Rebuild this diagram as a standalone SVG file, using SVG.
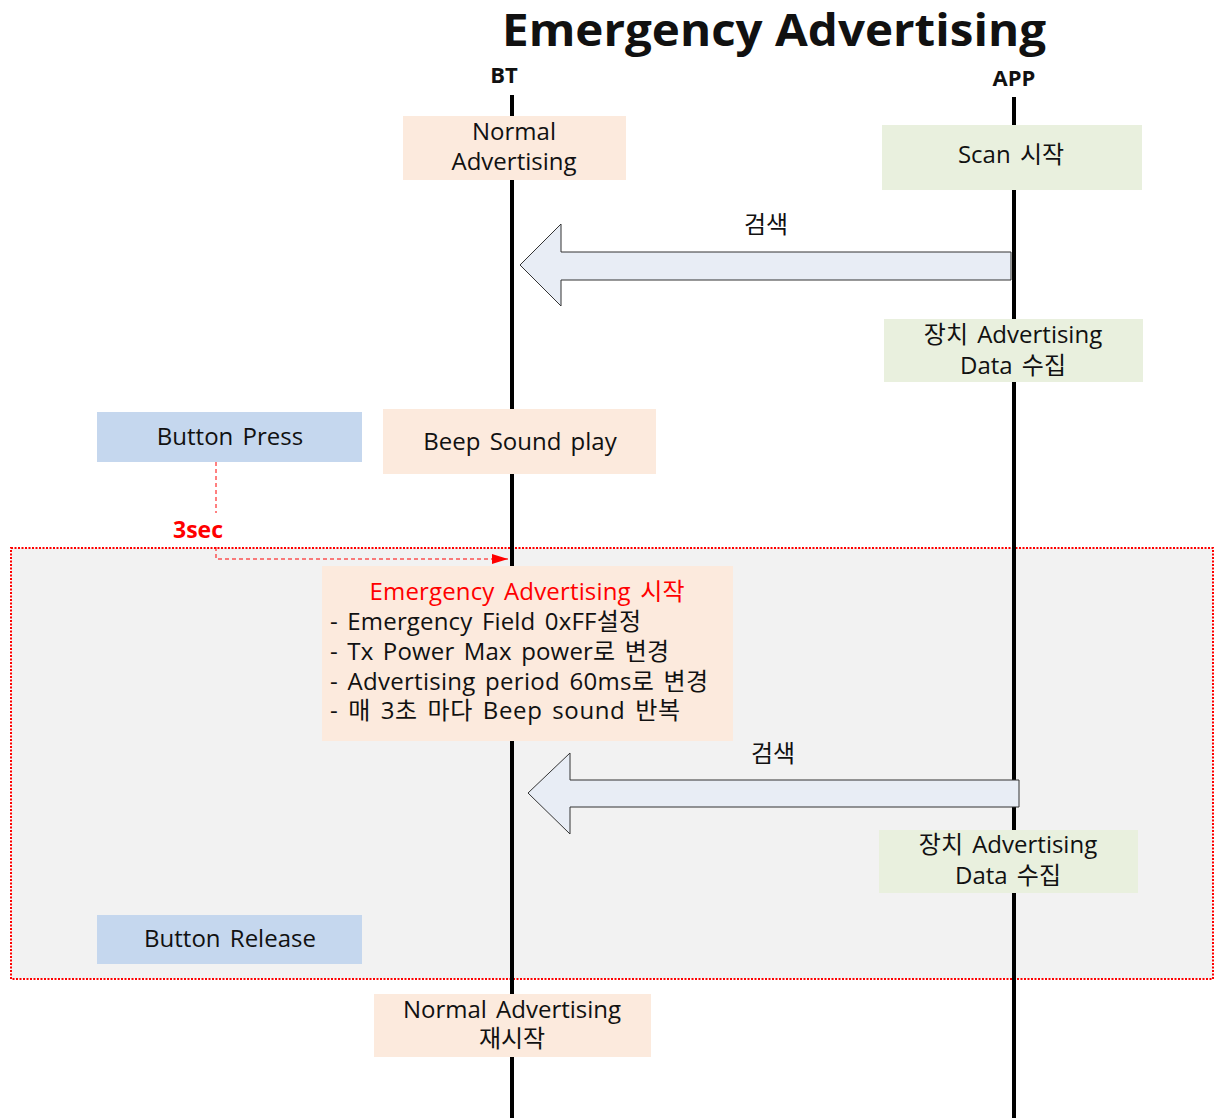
<svg xmlns="http://www.w3.org/2000/svg" width="1216" height="1118" viewBox="0 0 1216 1118">
  <defs>
    <style>
      text { font-family: "Open Sans", "Noto Sans CJK KR", sans-serif; fill: #111; }
      .lbl { font-size: 24px; text-anchor: middle; word-spacing: 3px; }
      .left { font-size: 24px; text-anchor: start; word-spacing: 3px; }
      .peach { fill: #FCEADD; }
      .green { fill: #E9F0DE; }
      .blue { fill: #C5D7EE; }
      .life { stroke: #000; stroke-width: 4; }
      .block { fill: #E8EDF5; stroke: #333; stroke-width: 1; }
      .timer { fill: none; stroke: #FF0000; stroke-width: 1; stroke-dasharray: 4 3; }
    </style>
    <marker id="redHead" viewBox="0 0 16 10" refX="16" refY="5" markerWidth="16" markerHeight="10" markerUnits="userSpaceOnUse" orient="auto">
      <path d="M0,0 L16,5 L0,10 Z" fill="#FF0000"/>
    </marker>
  </defs>

  <rect width="1216" height="1118" fill="#fff"/>

  <!-- title and participants -->
  <text x="774" y="46" font-size="45" font-weight="bold" text-anchor="middle" textLength="544" lengthAdjust="spacingAndGlyphs">Emergency Advertising</text>
  <text x="504" y="83" font-size="22" font-weight="bold" text-anchor="middle">BT</text>
  <text x="1014" y="86" font-size="22" font-weight="bold" text-anchor="middle">APP</text>

  <!-- emergency period region -->
  <g id="emergency-region">
    <rect x="11" y="548" width="1202" height="431" fill="#F2F2F2" stroke="#FF0000" stroke-width="2" stroke-dasharray="2 1.5"/>
  </g>

  <!-- lifelines -->
  <g id="lifelines">
    <line class="life" x1="512" y1="95" x2="512" y2="1118"/>
    <line class="life" x1="1014" y1="97" x2="1014" y2="1118"/>
  </g>

  <g id="connectors">
    <polygon class="block" points="520,265 561,224 561,252 1011,252 1011,280 561,280 561,306"/>
    <text class="lbl" x="766" y="233">검색</text>
    <polygon class="block" points="528,793 570,753 570,780 1019,780 1019,807 570,807 570,834"/>
    <text class="lbl" x="773" y="762">검색</text>
    <polyline class="timer" points="216,462 216,513"/>
    <polyline class="timer" points="216,547 216,559 508,559" marker-end="url(#redHead)"/>
    <text x="198" y="538" font-size="23" font-weight="bold" text-anchor="middle" style="fill:#FF0000">3sec</text>
  </g>

  <g id="normal-advertising">
    <rect class="peach" x="403" y="116" width="223" height="64"/>
    <text class="lbl" x="514" y="140">Normal</text>
    <text class="lbl" x="514" y="170">Advertising</text>
  </g>

  <g id="scan-start">
    <rect class="green" x="882" y="125" width="260" height="65"/>
    <text class="lbl" x="1011" y="163">Scan 시작</text>
  </g>

  <g id="collect-data-1">
    <rect class="green" x="884" y="319" width="259" height="63"/>
    <text class="lbl" x="1013" y="343">장치 Advertising</text>
    <text class="lbl" x="1013" y="374">Data 수집</text>
  </g>

  <g id="button-press">
    <rect class="blue" x="97" y="412" width="265" height="50"/>
    <text class="lbl" x="230" y="445">Button Press</text>
  </g>

  <g id="beep-sound">
    <rect class="peach" x="383" y="409" width="273" height="65"/>
    <text class="lbl" x="520" y="450">Beep Sound play</text>
  </g>

  <g id="emergency-start">
    <rect class="peach" x="322" y="566" width="411" height="175"/>
    <text class="lbl" x="527" y="600" style="fill:#FF0000" textLength="315">Emergency Advertising 시작</text>
    <text class="left" x="330" y="630" textLength="311">- Emergency Field 0xFF설정</text>
    <text class="left" x="330" y="660" textLength="339">- Tx Power Max power로 변경</text>
    <text class="left" x="330" y="690" textLength="378">- Advertising period 60ms로 변경</text>
    <text class="left" x="330" y="719" textLength="350">- 매 3초 마다 Beep sound 반복</text>
  </g>

  <g id="collect-data-2">
    <rect class="green" x="879" y="830" width="259" height="63"/>
    <text class="lbl" x="1008" y="853">장치 Advertising</text>
    <text class="lbl" x="1008" y="884">Data 수집</text>
  </g>

  <g id="button-release">
    <rect class="blue" x="97" y="915" width="265" height="49"/>
    <text class="lbl" x="230" y="947">Button Release</text>
  </g>

  <g id="normal-restart">
    <rect class="peach" x="374" y="994" width="277" height="63"/>
    <text class="lbl" x="512" y="1018">Normal Advertising</text>
    <text class="lbl" x="512" y="1047">재시작</text>
  </g>
</svg>
